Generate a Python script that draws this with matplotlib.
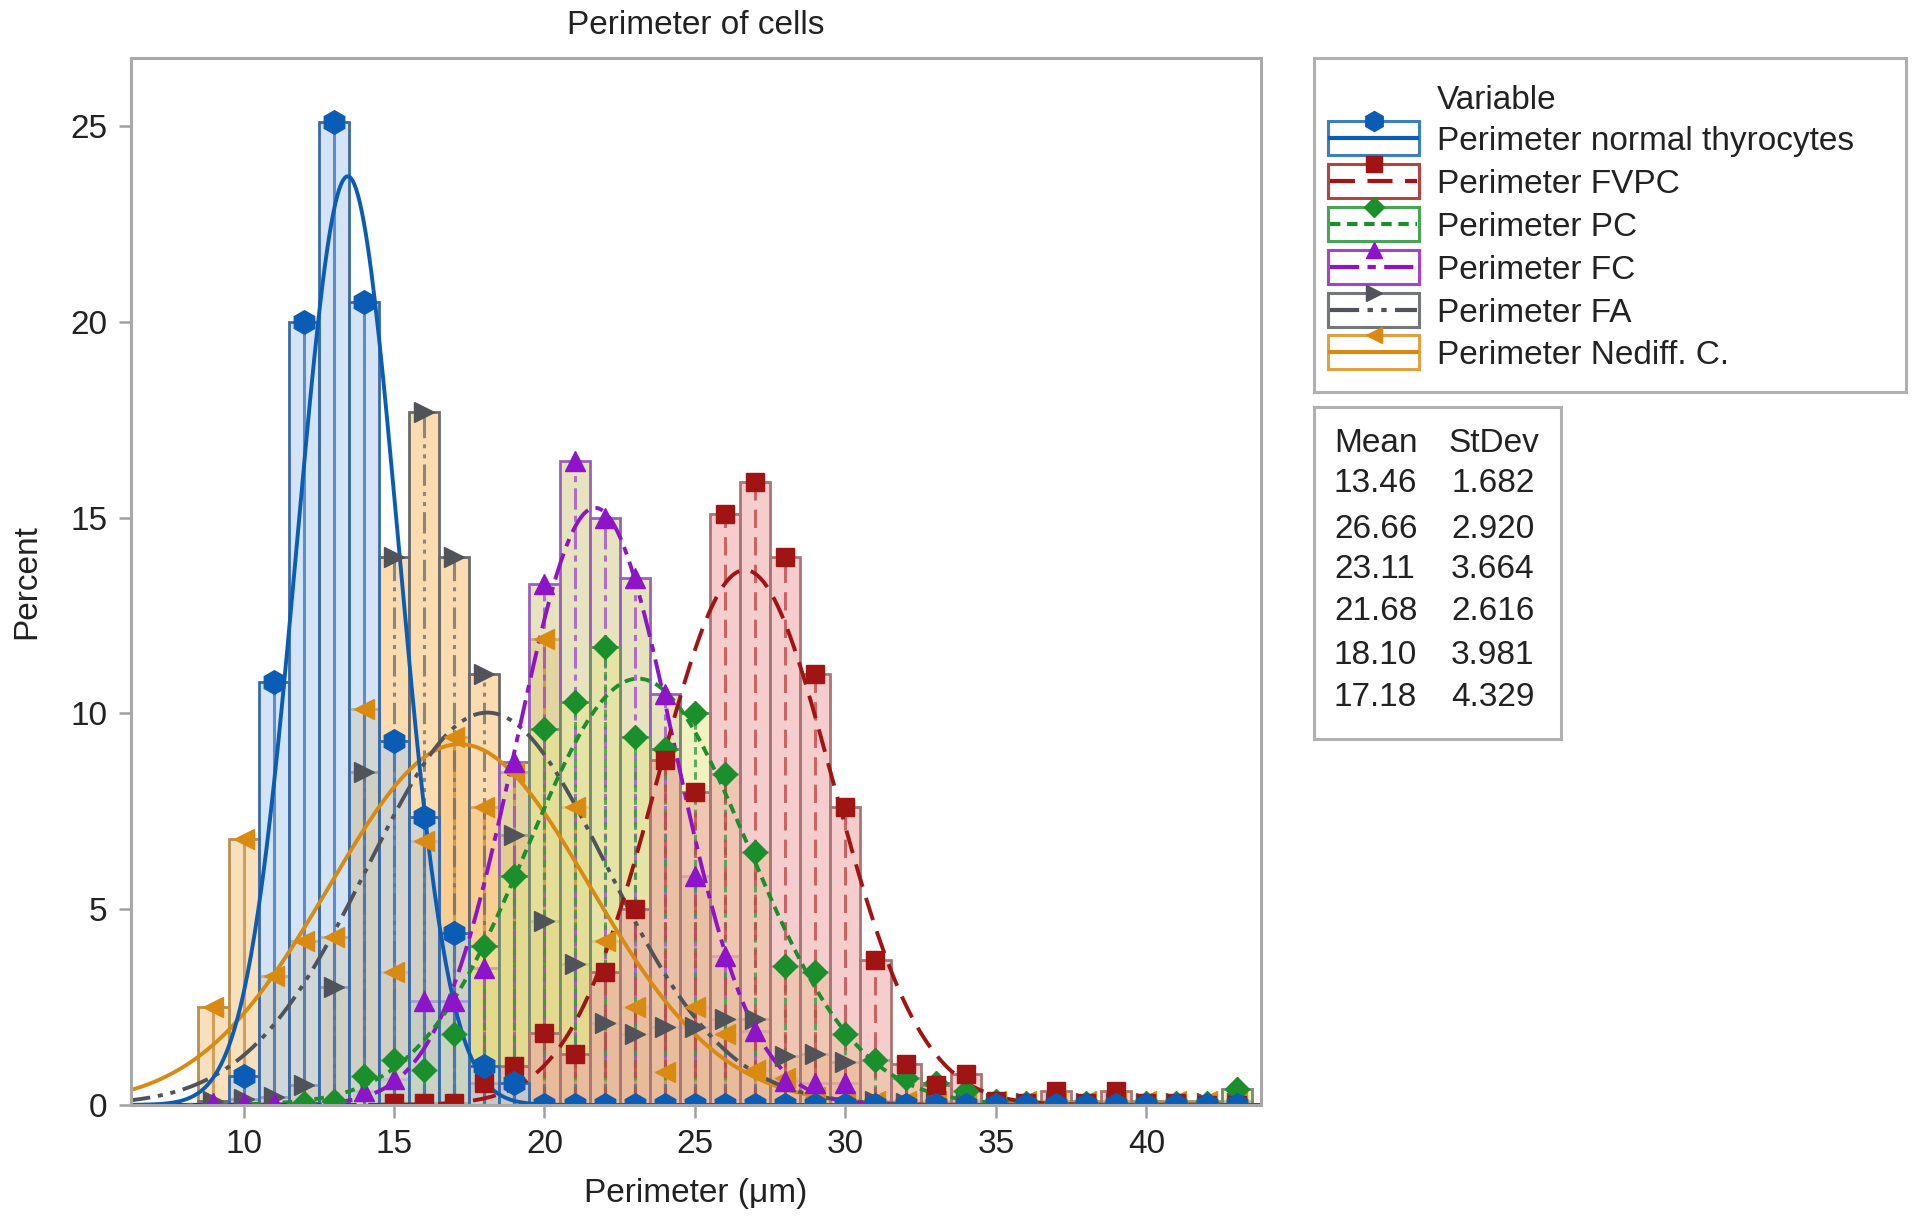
import numpy as np
import matplotlib
matplotlib.use("Agg")
import matplotlib.pyplot as plt
from matplotlib.colors import to_rgba
from matplotlib.patches import Rectangle

plt.rcParams["font.family"] = ["Liberation Sans", "DejaVu Sans"]

# bin centres (um), 1 um wide bins
bins = list(range(9, 44))

names = ["Perimeter normal thyrocytes", "Perimeter FVPC", "Perimeter PC",
         "Perimeter FC", "Perimeter FA", "Perimeter Nediff. C."]
means = [13.46, 26.66, 23.11, 21.68, 18.10, 17.18]
stdevs = [1.682, 2.920, 3.664, 2.616, 3.981, 4.329]
mean_txt = ["13.46", "26.66", "23.11", "21.68", "18.10", "17.18"]
sd_txt = ["1.682", "2.920", "3.664", "2.616", "3.981", "4.329"]

normal = [0, 0.75, 10.8, 20.0, 25.1, 20.5, 9.3, 7.35, 4.4, 1.0, 0.55] + [0] * 24
fvpc = [0, 0, 0, 0, 0, 0, 0.05, 0.05, 0.05, 0.55, 1.0, 1.85, 1.3, 3.4, 5.0, 8.8,
        8.0, 15.1, 15.9, 14.0, 11.0, 7.6, 3.7, 1.05, 0.5, 0.8, 0.1, 0.05, 0.35,
        0.05, 0.35, 0.05, 0.05, 0, 0]
pc = [0, 0, 0, 0.05, 0.1, 0.75, 1.15, 0.9, 1.8, 4.05, 5.85, 9.6, 10.3, 11.7, 9.4,
      9.1, 10.0, 8.45, 6.45, 3.55, 3.4, 1.8, 1.15, 0.7, 0.55, 0.35, 0.1, 0.05,
      0.05, 0.05, 0.05, 0.05, 0.05, 0.05, 0.4]
fc = [0.05, 0.05, 0.05, 0.05, 0.05, 0.35, 0.65, 2.65, 2.65, 3.5, 8.75, 13.3,
      16.45, 15.0, 13.45, 10.5, 5.85, 3.8, 1.9, 0.6, 0.55, 0.55, 0.05] + [0.05] * 12
fa = [0.1, 0.15, 0.2, 0.5, 3.0, 8.5, 14.0, 17.7, 14.0, 11.0, 6.9, 4.7, 3.6, 2.1,
      1.8, 2.0, 2.0, 2.2, 2.2, 1.25, 1.3, 1.1, 0.1] + [0.05] * 12
nediff = [2.5, 6.8, 3.3, 4.2, 4.3, 10.1, 3.4, 6.75, 9.4, 7.6, 8.5, 11.9, 7.6, 4.2,
          2.5, 0.85, 2.5, 1.8, 0.9, 0.7, 0.2, 0.1] + [0.1] * 13

series = [normal, fvpc, pc, fc, fa, nediff]

styles = [
    dict(c="#0b5cb5", fill="#b1cfed", edge="#3a6aa8", vc="#3f78c0", ls="-", mk="h", ms=17),
    dict(c="#a11414", fill="#eda4a4", edge="#a87676", vc="#c04a4a", ls=(0, (6, 3)), mk="s", ms=13),
    dict(c="#1a8f2c", fill="#e6e690", edge="#768a70", vc="#3c9a48", ls=(0, (2.5, 1.6)), mk="D", ms=12),
    dict(c="#8d14c8", fill="#d2cc8a", edge="#9a60c0", vc="#a050d0", ls=(0, (7, 2, 2, 2)), mk="^", ms=14),
    dict(c="#50545a", fill="#f8c070", edge="#6a6a6a", vc="#707070", ls=(0, (7, 2, 1.3, 2, 1.3, 2)), mk=">", ms=14),
    dict(c="#d98a10", fill="#f3c888", edge="#b89050", vc="#c89040", ls="-", mk="<", ms=14),
]

fig = plt.figure(figsize=(19.13, 12.25), dpi=100)
ax = fig.add_axes([0.0685, 0.098, 0.5905, 0.855])

x_curve = np.linspace(6.0, 44.0, 600)
draw_order = [5, 4, 3, 2, 1, 0]
for i in draw_order:
    st = styles[i]
    ax.bar(bins, series[i], width=1.0, color=to_rgba(st["fill"], 0.55),
           edgecolor=st["edge"], linewidth=2.0, zorder=2)
for i in draw_order:
    st = styles[i]
    ax.vlines(bins, 0, series[i], colors=st["vc"], alpha=0.8,
              linestyles=[st["ls"]], linewidth=2.2, zorder=3)
for i in draw_order:
    st = styles[i]
    pdf = 100.0 * np.exp(-0.5 * ((x_curve - means[i]) / stdevs[i]) ** 2) / (stdevs[i] * np.sqrt(2 * np.pi))
    ax.plot(x_curve, pdf, color=st["c"], ls=st["ls"], lw=2.8, zorder=4)
for i in draw_order:
    st = styles[i]
    vals = series[i]
    first = next(k for k, v in enumerate(vals) if v > 0)
    ax.plot(bins[first:], vals[first:], ls="none", marker=st["mk"], ms=st["ms"],
            color=st["c"], mec=st["c"], zorder=5)

ax.set_xlim(6.26, 43.8)
ax.set_ylim(0, 26.75)
ax.set_xticks([10, 15, 20, 25, 30, 35, 40])
ax.set_yticks([0, 5, 10, 15, 20, 25])
for sp in ax.spines.values():
    sp.set_color("#a8a8a8")
    sp.set_linewidth(2.2)
    sp.set_zorder(6)
ax.tick_params(axis="both", colors="#a0a0a0", labelcolor="#222222",
               labelsize=24, length=9, width=1.8, pad=8)
ax.set_title("Perimeter of cells", fontsize=24, color="#222222", pad=17)
ax.set_xlabel("Perimeter (\u03bcm)", fontsize=24, color="#222222", labelpad=13)
ax.set_ylabel("Percent", fontsize=24, color="#222222", labelpad=20)

# legend panel (pixel coordinates inside the box)
W, H = 1913, 1225
lx0, ly0, lx1, ly1 = 1314, 58, 1906, 392
lax = fig.add_axes([lx0 / W, 1 - ly1 / H, (lx1 - lx0) / W, (ly1 - ly0) / H])
lax.set_xlim(0, lx1 - lx0)
lax.set_ylim(ly1 - ly0, 0)
lax.set_xticks([])
lax.set_yticks([])
for sp in lax.spines.values():
    sp.set_color("#b0b0b0")
    sp.set_linewidth(2.2)
lax.text(123, 42, "Variable", fontsize=24, va="center", color="#222222")
row_y = [83, 126, 169, 212, 255, 297]
for i, name in enumerate(names):
    st = styles[i]
    y = row_y[i]
    lax.add_patch(Rectangle((14, y - 20), 91, 34, facecolor="white",
                            edgecolor=st["c"], alpha=0.8, lw=2.2))
    lax.plot([16, 103], [y - 3, y - 3], color=st["c"], ls=st["ls"], lw=3)
    lax.plot([60], [y - 20], marker=st["mk"], ms=st["ms"] * 0.85, color=st["c"],
             ls="none", clip_on=False)
    lax.text(123, y, name, fontsize=24, va="center", color="#222222")

# mean / stdev panel
tx0, ty0, tx1, ty1 = 1314, 407, 1561, 739
tax = fig.add_axes([tx0 / W, 1 - ty1 / H, (tx1 - tx0) / W, (ty1 - ty0) / H])
tax.set_xlim(0, tx1 - tx0)
tax.set_ylim(ty1 - ty0, 0)
tax.set_xticks([])
tax.set_yticks([])
for sp in tax.spines.values():
    sp.set_color("#b0b0b0")
    sp.set_linewidth(2.2)
tax.text(20, 36, "Mean", fontsize=24, va="center", color="#222222")
tax.text(134, 36, "StDev", fontsize=24, va="center", color="#222222")
tab_y = [77, 123, 163, 204, 248, 290]
for i in range(len(mean_txt)):
    tax.text(20, tab_y[i], mean_txt[i], fontsize=24, va="center", color="#222222")
    tax.text(137, tab_y[i], sd_txt[i], fontsize=24, va="center", color="#222222")

fig.savefig("out.png", dpi=100)
